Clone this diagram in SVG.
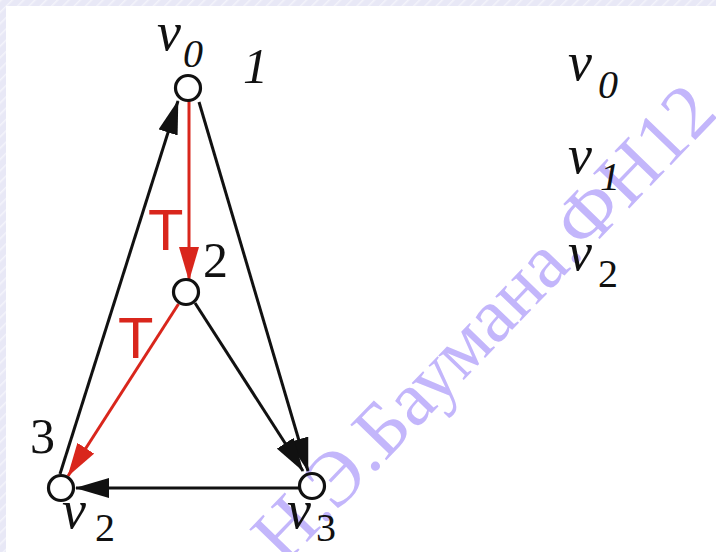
<svg xmlns="http://www.w3.org/2000/svg" width="716" height="552" viewBox="0 0 716 552">
<defs>
<pattern id="hatch" width="8" height="8" patternUnits="userSpaceOnUse" patternTransform="rotate(45)">
<rect width="8" height="8" fill="#e8e8f6"/>
<line x1="0" y1="0" x2="0" y2="8" stroke="#f4f4fb" stroke-width="3"/>
</pattern>
<marker id="ab" markerUnits="userSpaceOnUse" markerWidth="34" markerHeight="20" refX="33" refY="10" orient="auto">
<path d="M0,0 L34,10 L0,20 z" fill="#111"/>
</marker>
<marker id="ar" markerUnits="userSpaceOnUse" markerWidth="34" markerHeight="20" refX="33" refY="10" orient="auto">
<path d="M0,0 L34,10 L0,20 z" fill="#d9261c"/>
</marker>
<style>
.e{stroke:#111;stroke-width:3;fill:none;marker-end:url(#ab)}
.r{stroke:#d9261c;stroke-width:3;fill:none;marker-end:url(#ar)}
.n{fill:none;stroke:#111;stroke-width:3.2}
.m{font-family:"Liberation Serif",serif;fill:#111}
.vi{font-size:54px;font-style:italic}
.sb{font-size:40px}
.it{font-style:italic}
.num{font-size:50px}
.t{font-family:"Liberation Sans",sans-serif;font-size:58px;fill:#d9261c}
.wm{font-family:"Liberation Serif",serif;font-size:77px;fill:#c3b6fb}
</style>
</defs>
<rect width="716" height="552" fill="#ffffff"/>
<rect x="0" y="0" width="716" height="6" fill="url(#hatch)"/>
<rect x="0" y="0" width="6" height="552" fill="url(#hatch)"/>
<text class="wm" transform="translate(284,566) rotate(-46)">Н.Э.Баумана.ФН12</text>
<g id="connectors">
<line class="r" x1="189" y1="101" x2="189" y2="280"/>
<line class="r" x1="178.5" y1="304" x2="68" y2="476"/>
<line class="e" x1="60" y1="474" x2="178" y2="101"/>
<line class="e" x1="199" y1="102" x2="308" y2="471"/>
<line class="e" x1="195" y1="303" x2="303" y2="471"/>
<line class="e" x1="299" y1="488" x2="76" y2="488"/>
</g>
<g id="v0">
<circle class="n" cx="188" cy="88" r="12.5"/>
<text class="m"><tspan class="vi" x="157" y="50">v</tspan><tspan class="sb it" x="183" y="67">0</tspan></text>
<text class="m num it" x="243" y="83">1</text>
</g>
<g id="v1">
<circle class="n" cx="186" cy="292" r="12.5"/>
<text class="m num" x="203" y="277">2</text>
</g>
<g id="v2">
<circle class="n" cx="61" cy="488" r="12.5"/>
<text class="m num" x="30" y="453">3</text>
<text class="m"><tspan class="vi" x="62" y="528">v</tspan><tspan class="sb" x="95" y="541">2</tspan></text>
</g>
<g id="v3">
<circle class="n" cx="312" cy="486" r="12.5"/>
<text class="m"><tspan class="vi" x="287" y="528">v</tspan><tspan class="sb" x="316" y="541">3</tspan></text>
</g>
<g id="labels">
<text class="t" x="148" y="250">T</text>
<text class="t" x="118" y="358">T</text>
<text class="m"><tspan class="vi" x="568" y="80">v</tspan><tspan class="sb it" x="598" y="98">0</tspan></text>
<text class="m"><tspan class="vi" x="568" y="173">v</tspan><tspan class="sb it" x="600" y="190">1</tspan></text>
<text class="m"><tspan class="vi" x="568" y="270">v</tspan><tspan class="sb" x="598" y="287">2</tspan></text>
</g>
</svg>
